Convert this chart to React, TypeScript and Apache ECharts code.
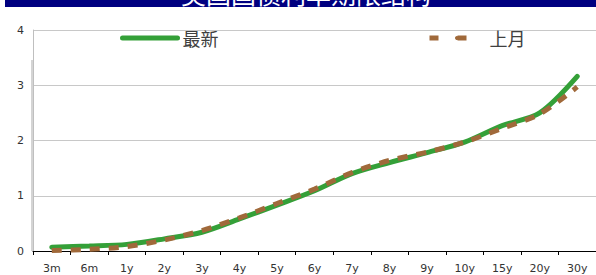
import React, { useEffect, useRef } from "react";
import * as echarts from "echarts";

const categories = ["3m", "6m", "1y", "2y", "3y", "4y", "5y", "6y", "7y", "8y", "9y", "10y", "15y", "20y", "30y"];
const latest = [0.07, 0.09, 0.12, 0.22, 0.34, 0.58, 0.83, 1.09, 1.4, 1.6, 1.78, 1.97, 2.27, 2.5, 3.16];
const lastMonth = [0.01, 0.03, 0.08, 0.2, 0.37, 0.6, 0.86, 1.12, 1.42, 1.64, 1.79, 1.97, 2.22, 2.48, 2.97];
const yTicks = [0, 1, 2, 3, 4];
const titleText = "美国国债利率期限结构";

export default function App() {
  const ref = useRef<HTMLDivElement>(null);
  useEffect(() => {
    if (!ref.current) return;
    const chart = echarts.init(ref.current, undefined, { renderer: "svg" });
    const green = "#34a038";
    const brown = "#a0693a";
    chart.setOption({
      animation: false,
      backgroundColor: "#ffffff",
      textStyle: { fontFamily: "'DejaVu Sans', sans-serif" },
      grid: { left: 33, right: 0, top: 30, bottom: 24, containLabel: false },
      graphic: [
        { type: "rect", left: 5, top: 0, shape: { width: 591, height: 7 }, style: { fill: "#000080" }, z: 10 },
        {
          type: "text",
          x: 306,
          y: -7,
          style: {
            text: titleText,
            fill: "#ffffff",
            fontSize: 25,
            fontFamily: "'Noto Sans CJK SC', sans-serif",
            align: "center",
            verticalAlign: "middle",
          },
          z: 11,
        },
        { type: "rect", left: 31, top: 60, shape: { width: 2, height: 191 }, style: { fill: "#d4d4d4" }, z: 1 },
      ],
      legend: [
        {
          data: ["最新"],
          left: 120,
          top: 29,
          padding: 0,
          itemWidth: 55,
          itemHeight: 5,
          lineStyle: { width: 5, cap: "round" },
          textStyle: { fontSize: 18, color: "#404040", fontFamily: "'Noto Sans CJK SC', sans-serif" },
        },
        {
          data: ["上月"],
          left: 427,
          top: 29,
          padding: 0,
          itemWidth: 55,
          itemHeight: 5,
          lineStyle: { width: 5, type: [9, 19], cap: "butt" },
          textStyle: { fontSize: 18, color: "#404040", fontFamily: "'Noto Sans CJK SC', sans-serif" },
        },
      ],
      xAxis: {
        type: "category",
        data: categories,
        boundaryGap: true,
        axisLine: { lineStyle: { color: "#000000", width: 1 } },
        axisTick: { show: true, inside: false, length: 4, lineStyle: { color: "#000000" } },
        axisLabel: { fontSize: 11, color: "#333333", margin: 12 },
        splitLine: { show: false },
      },
      yAxis: {
        type: "value",
        min: yTicks[0],
        max: yTicks[yTicks.length - 1],
        interval: 1,
        axisLine: { show: true, lineStyle: { color: "#bfbfbf", width: 1 } },
        axisTick: { show: false },
        axisLabel: { fontSize: 11, color: "#333333", margin: 9 },
        splitLine: { show: true, lineStyle: { color: "#c8c8c8", width: 1 } },
      },
      series: [
        {
          name: "最新",
          type: "line",
          data: latest,
          smooth: 0.3,
          showSymbol: false,
          symbol: "none",
          lineStyle: { color: green, width: 5, cap: "round" },
          itemStyle: { color: green },
          z: 3,
        },
        {
          name: "上月",
          type: "line",
          data: lastMonth,
          smooth: 0.3,
          showSymbol: false,
          symbol: "none",
          lineStyle: { color: brown, width: 5, type: [10, 9] },
          itemStyle: { color: brown },
          z: 4,
        },
      ],
    });
    return () => chart.dispose();
  }, []);
  return <div ref={ref} style={{ width: 596, height: 275, position: "absolute", left: 0, top: 0 }} />;
}
